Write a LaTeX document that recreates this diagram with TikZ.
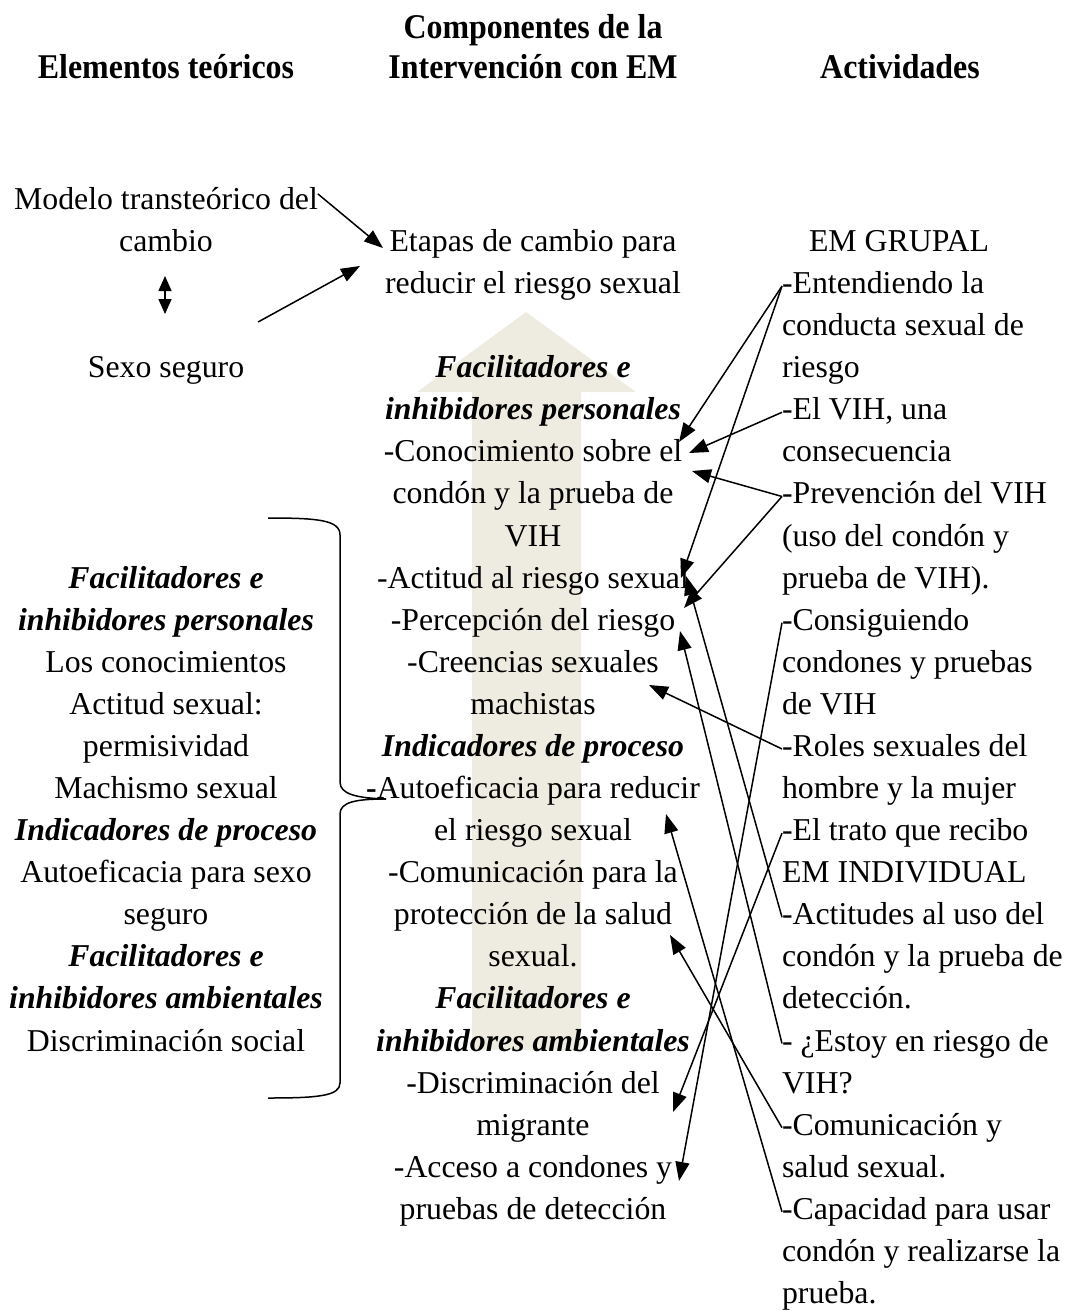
\documentclass[tikz,border=0pt]{standalone}
\usepackage{fontspec}
\setmainfont{Liberation Serif}
\usepackage{graphicx}
\usetikzlibrary{arrows.meta}
\definecolor{tanbg}{RGB}{238,236,225}

% baseline of text row #1 (rows are 42.08 units apart)
\newcommand\ry[1]{{251.5+42.08*(#1)}}
\newcommand\bi[1]{\textbf{\textit{#1}}}
\newcommand\hd[1]{\scalebox{0.92}[1]{#1}}

\begin{document}
\begin{tikzpicture}[x=1pt,y=-1pt,
  every node/.style={inner sep=0pt,outer sep=0pt},
  txt/.style={font=\fontsize{31.8}{42}\selectfont,text height=22pt,text depth=7pt,anchor=base},
  rtxt/.style={txt,anchor=base west},
  head/.style={font=\fontsize{34.7}{40}\selectfont\bfseries,anchor=base},
  link/.style={line width=1.5pt,-{Triangle[length=19pt,width=14pt]}},
  twoway/.style={line width=1.5pt,{Triangle[length=15pt,width=13pt]}-{Triangle[length=15pt,width=13pt]}},
  plain/.style={line width=1.5pt},
]
\useasboundingbox (0,0) rectangle (1066,1311);

% wide upward arrow behind the middle column
\fill[tanbg] (472,1050) -- (472,392) -- (417,392) -- (526,312) -- (636,392)
  -- (581,392) -- (581,1050) -- cycle;

% column headings
\node[head] (hL)  at (166,79) {\hd{Elementos teóricos}};
\node[head] (hM1) at (533,39) {\hd{Componentes de la}};
\node[head] (hM2) at (533,79) {\hd{Intervención con EM}};
\node[head] (hR)  at (900,79) {\hd{Actividades}};

% left column: theoretical elements
\node[txt] (modelo) at (166,\ry{-1}) {Modelo transteórico del};
\node[txt] (cambio) at (166,\ry{0}) {cambio};
\node[txt] (sexo)   at (166,\ry{3}) {Sexo seguro};
\node[txt] (L8)  at (166,\ry{8})  {\bi{Facilitadores e}};
\node[txt] (L9)  at (166,\ry{9})  {\bi{inhibidores personales}};
\node[txt] (L10) at (166,\ry{10}) {Los conocimientos};
\node[txt] (L11) at (166,\ry{11}) {Actitud sexual:};
\node[txt] (L12) at (166,\ry{12}) {permisividad};
\node[txt] (L13) at (166,\ry{13}) {Machismo sexual};
\node[txt] (L14) at (166,\ry{14}) {\bi{Indicadores de proceso}};
\node[txt] (L15) at (166,\ry{15}) {Autoeficacia para sexo};
\node[txt] (L16) at (166,\ry{16}) {seguro};
\node[txt] (L17) at (166,\ry{17}) {\bi{Facilitadores e}};
\node[txt] (L18) at (166,\ry{18}) {\bi{inhibidores ambientales}};
\node[txt] (L19) at (166,\ry{19}) {Discriminación social};

% middle column: intervention components
\node[txt] (etapas)  at (533,\ry{0})  {Etapas de cambio para};
\node[txt] (reducir) at (533,\ry{1})  {reducir el riesgo sexual};
\node[txt] (M3)  at (533,\ry{3})  {\bi{Facilitadores e}};
\node[txt] (M4)  at (533,\ry{4})  {\bi{inhibidores personales}};
\node[txt] (cono)    at (533,\ry{5})  {-Conocimiento sobre el};
\node[txt] (M6)  at (533,\ry{6})  {condón y la prueba de};
\node[txt] (M7)  at (533,\ry{7})  {VIH};
\node[txt] (actitud) at (533,\ry{8})  {-Actitud al riesgo sexual};
\node[txt] (percep)  at (533,\ry{9})  {-Percepción del riesgo};
\node[txt] (creen)   at (533,\ry{10}) {-Creencias sexuales};
\node[txt] (M11) at (533,\ry{11}) {machistas};
\node[txt] (M12) at (533,\ry{12}) {\bi{Indicadores de proceso}};
\node[txt] (autoef)  at (533,\ry{13}) {\textbf{-}Autoeficacia para reducir};
\node[txt] (M14) at (533,\ry{14}) {el riesgo sexual};
\node[txt] (M15) at (533,\ry{15}) {-Comunicación para la};
\node[txt] (protec)  at (533,\ry{16}) {protección de la salud};
\node[txt] (M17) at (533,\ry{17}) {sexual.};
\node[txt] (M18) at (533,\ry{18}) {\bi{Facilitadores e}};
\node[txt] (M19) at (533,\ry{19}) {\bi{inhibidores ambientales}};
\node[txt] (discr)   at (533,\ry{20}) {-Discriminación del};
\node[txt] (M21) at (533,\ry{21}) {migrante};
\node[txt] (acceso)  at (533,\ry{22}) {-Acceso a condones y};
\node[txt] (M23) at (533,\ry{23}) {pruebas de detección};

% right column: activities
\node[txt]  (grupal) at (899,\ry{0})  {EM GRUPAL};
\node[rtxt] (entend) at (782,\ry{1})  {-Entendiendo la};
\node[rtxt] (R2)     at (782,\ry{2})  {conducta sexual de};
\node[rtxt] (R3)     at (782,\ry{3})  {riesgo};
\node[rtxt] (elvih)  at (782,\ry{4})  {-El VIH, una};
\node[rtxt] (R5)     at (782,\ry{5})  {consecuencia};
\node[rtxt] (prev)   at (782,\ry{6})  {-Prevención del VIH};
\node[rtxt] (R7)     at (782,\ry{7})  {(uso del condón y};
\node[rtxt] (R8)     at (782,\ry{8})  {prueba de VIH).};
\node[rtxt] (consig) at (782,\ry{9})  {-Consiguiendo};
\node[rtxt] (R10)    at (782,\ry{10}) {condones y pruebas};
\node[rtxt] (R11)    at (782,\ry{11}) {de VIH};
\node[rtxt] (roles)  at (782,\ry{12}) {-Roles sexuales del};
\node[rtxt] (R13)    at (782,\ry{13}) {hombre y la mujer};
\node[rtxt] (trato)  at (782,\ry{14}) {-El trato que recibo};
\node[rtxt] (indiv)  at (782,\ry{15}) {EM INDIVIDUAL};
\node[rtxt] (actit)  at (782,\ry{16}) {-Actitudes al uso del};
\node[rtxt] (R17)    at (782,\ry{17}) {condón y la prueba de};
\node[rtxt] (R18)    at (782,\ry{18}) {detección.};
\node[rtxt] (estoy)  at (782,\ry{19}) {- ¿Estoy en riesgo de};
\node[rtxt] (R20)    at (782,\ry{20}) {VIH?};
\node[rtxt] (comun)  at (782,\ry{21}) {-Comunicación y};
\node[rtxt] (R22)    at (782,\ry{22}) {salud sexual.};
\node[rtxt] (capac)  at (782,\ry{23}) {-Capacidad para usar};
\node[rtxt] (R24)    at (782,\ry{24}) {condón y realizarse la};
\node[rtxt] (R25)    at (782,\ry{25}) {prueba.};

% links between the theoretical elements and the stages of change
\draw[link] ([yshift=8pt]modelo.east) -- ([xshift=-150pt,yshift=3.5pt]etapas.base);
\coordinate (sexoout) at ([xshift=92pt,yshift=55.7pt]sexo.base);
\draw[link] (sexoout) -- ([xshift=-173pt,yshift=27.6pt]reducir.base);
\draw[twoway] ([xshift=-1pt,yshift=-24.5pt]cambio.base) -- ([xshift=-1pt,yshift=63.7pt]sexo.base);

% brace grouping the personal, process and environmental elements
\draw[plain] (268,518) .. controls (318,518) and (340,520) .. (340,535)
  -- (340,782) .. controls (340,794) and (356,798) .. (386,799)
  .. controls (356,799) and (340,802) .. (340,814)
  -- (340,1083) .. controls (340,1096) and (318,1098) .. (268,1098);

% activities feeding the intervention components
\draw[link] (entend.west) -- ([xshift=146pt,yshift=19.9pt]cono.base);
\draw[link] (entend.west) -- ([xshift=148pt,yshift=10.1pt]actitud.base);
\draw[link] (elvih.west)  -- ([xshift=156pt,yshift=8.9pt]cono.base);
\draw[link] (prev.west)   -- ([xshift=159pt,yshift=-9.1pt]cono.base);
\draw[link] (prev.west)   -- ([xshift=151pt,yshift=22.2pt]percep.base);
\draw[link] (consig.west) -- ([xshift=146pt,yshift=-3.7pt]acceso.base);
\draw[link] (roles.west)  -- ([xshift=116pt,yshift=-12.7pt]creen.base);
\draw[link] (trato.west)  -- ([xshift=140pt,yshift=-18.9pt]discr.base);
\draw[link] (actit.west)  -- ([xshift=153pt,yshift=12.1pt]actitud.base);
\draw[link] (estoy.west)  -- ([xshift=147pt,yshift=-0.8pt]percep.base);
\draw[link] (comun.west)  -- ([xshift=137pt,yshift=-10.2pt]protec.base);
\draw[link] (capac.west)  -- ([xshift=133pt,yshift=-15.5pt]autoef.base);
\end{tikzpicture}
\end{document}
